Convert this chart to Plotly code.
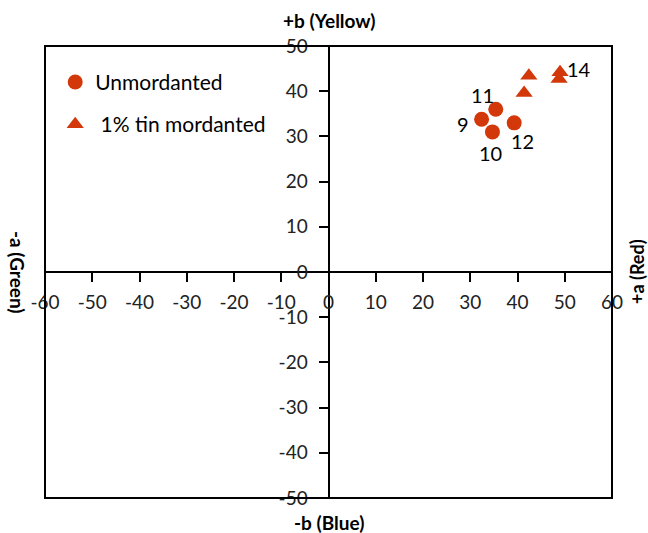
import plotly.graph_objects as go

# Data
unmord_a = [32.4, 35.4, 34.7, 39.3]
unmord_b = [33.8, 36.0, 31.0, 33.0]
unmord_labels = ["9", "11", "10", "12"]

tin_a = [42.4, 41.4, 49.0, 48.8]
tin_b = [43.4, 39.6, 44.2, 42.7]
tin_labels = ["", "", "14", ""]

tick_vals = [-60, -50, -40, -30, -20, -10, 0, 10, 20, 30, 40, 50, 60]
tick_text = ["-60", "-50", "-40", "-30", "-20", "-10", "0", "10", "20", "30", "40", "50", "60"]
ytick_vals = [-50, -40, -30, -20, -10, 0, 10, 20, 30, 40, 50]
ytick_text = ["-50", "-40", "-30", "-20", "-10", "0", "10", "20", "30", "40", "50"]

# label offsets in pixels (style only)
unmord_off = [(-19, -5), (-13, 14), (-2, -21), (8, -18)]
tin_off = [(0, 0), (0, 0), (19, 3), (0, 0)]

RED = "#D2380A"
FONT = "Lato"

fig = go.Figure()
fig.add_trace(go.Scatter(
    x=unmord_a, y=unmord_b, mode="markers", name="Unmordanted",
    marker=dict(symbol="circle", size=15, color=RED),
    legendgroup="a",
))
fig.add_trace(go.Scatter(
    x=tin_a, y=tin_b, mode="markers", name=" 1% tin mordanted",
    marker=dict(symbol="triangle-up", size=15, color=RED),
    legendgroup="b",
))

annotations = []
for xs, ys, labs, offs in [(unmord_a, unmord_b, unmord_labels, unmord_off),
                           (tin_a, tin_b, tin_labels, tin_off)]:
    for xv, yv, lab, (dx, dy) in zip(xs, ys, labs, offs):
        if lab:
            annotations.append(dict(x=xv, y=yv, text=lab, showarrow=False,
                                    xshift=dx, yshift=dy, xanchor="center", yanchor="middle",
                                    font=dict(size=20, color="black", family=FONT)))

annotations += [
    dict(text="<b>+b (Yellow)</b>", xref="paper", yref="paper", x=0.5, y=1,
         yshift=26, xanchor="center", yanchor="middle", showarrow=False, font=dict(size=19)),
    dict(text="<b>-b (Blue)</b>", xref="paper", yref="paper", x=0.5, y=0,
         yshift=-24, xanchor="center", yanchor="middle", showarrow=False, font=dict(size=19)),
    dict(text="<b>-a (Green)</b>", xref="paper", yref="paper", x=0, y=0.5,
         xshift=-27, xanchor="center", yanchor="middle", showarrow=False, textangle=90,
         font=dict(size=19)),
    dict(text="<b>+a (Red)</b>", xref="paper", yref="paper", x=1, y=0.5,
         xshift=25, xanchor="center", yanchor="middle", showarrow=False, textangle=-90,
         font=dict(size=18)),
]

axis_common = dict(
    showline=True, linecolor="black", linewidth=2,
    ticks="outside", ticklen=9, tickwidth=1.5, tickcolor="black",
    showgrid=False, zeroline=False, anchor="free", position=0.5,
    tickfont=dict(size=19, color="#222", family=FONT),
)

fig.update_layout(
    width=648, height=533,
    margin=dict(l=45, r=36, t=46, b=35),
    paper_bgcolor="white", plot_bgcolor="white",
    font=dict(family=FONT, size=19, color="black"),
    xaxis=dict(range=[-60, 60], tickvals=tick_vals, ticktext=tick_text,
               ticklabelstandoff=4, **axis_common),
    yaxis=dict(range=[-50, 50], tickvals=ytick_vals, ticktext=ytick_text,
               ticklabelstandoff=7, **axis_common),
    showlegend=True,
    legend=dict(x=0.018, y=0.965, xanchor="left", yanchor="top",
                bgcolor="rgba(0,0,0,0)", tracegroupgap=12,
                font=dict(size=21, family=FONT, color="black")),
    shapes=[dict(type="rect", xref="paper", yref="paper", x0=0, y0=0, x1=1, y1=1,
                 line=dict(color="black", width=2))],
    annotations=annotations,
)

fig.write_html("out.html")
